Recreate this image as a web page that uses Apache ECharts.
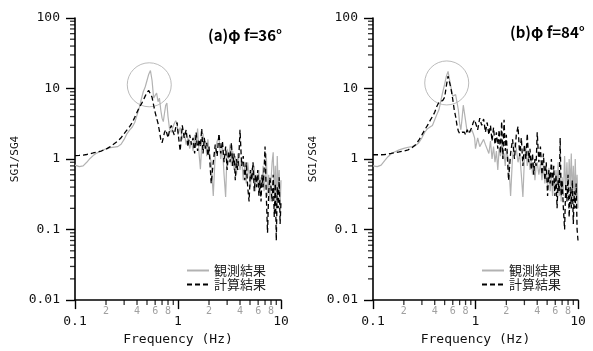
<!DOCTYPE html>
<html><head><meta charset="utf-8">
<script src="https://cdn.jsdelivr.net/npm/echarts@6/dist/echarts.min.js"></script>
<style>html,body{margin:0;padding:0;background:#fff}#c{width:593px;height:351px}</style>
</head><body><div id="c"></div>
<script>
// Frequency grid (Hz)
const freq = [0.10,0.11,0.12,0.13,0.14,0.15,0.16,0.18,0.20,0.22,0.24,0.26,0.28,0.30,0.32,0.34,0.36,0.38,0.40,0.42,0.44,0.46,0.48,0.50,0.52,0.54,0.56,0.58,0.60,0.62,0.64,0.66,0.68,0.70,0.72,0.74,0.76,0.78,0.80,0.83,0.86,0.89,0.92,0.95,0.98,
1.00,1.05,1.10,1.15,1.20,1.25,1.30,1.35,1.40,1.45,1.50,1.55,1.60,1.65,1.70,1.75,1.80,1.85,1.90,1.95,
2.0,2.1,2.2,2.3,2.4,2.5,2.6,2.7,2.8,2.9,3.0,3.1,3.2,3.3,3.4,3.5,3.6,3.7,3.8,3.9,
4.0,4.15,4.3,4.45,4.6,4.75,4.9,5.05,5.2,5.35,5.5,5.65,5.8,5.95,6.1,6.25,6.4,6.55,6.7,6.85,
7.0,7.2,7.4,7.6,7.8,8.0,8.2,8.4,8.6,8.8,9.0,9.2,9.4,9.6,9.8,10.0];

// (a) phi f = 36 deg
const obsA = [0.82,0.78,0.80,0.90,1.02,1.12,1.20,1.30,1.40,1.45,1.48,1.50,1.62,1.90,2.3,2.6,2.85,3.3,4.2,5.3,7.0,9.0,10.5,13,16,18,13,7.3,8.0,8.6,6.5,7.3,5.0,3.8,3.4,4.5,5.8,6.2,4.0,2.6,2.4,2.8,3.2,3.5,3.2,
2.2,2.8,1.9,2.4,1.6,2.0,1.4,1.8,1.3,2.2,1.5,2.7,1.2,0.72,1.6,2.3,1.4,1.8,1.1,1.9,
1.3,0.9,0.3,1.2,1.8,2.0,1.0,1.5,0.6,0.29,1.4,1.0,1.6,0.8,1.3,0.7,1.1,0.6,1.2,0.9,
0.7,1.0,0.5,0.8,0.45,0.9,0.6,0.4,0.75,0.5,0.8,0.35,0.6,0.45,0.7,0.3,0.55,0.4,0.8,0.35,
0.5,1.2,0.3,0.6,0.25,0.5,0.9,1.25,0.3,0.8,0.2,1.1,0.35,0.7,0.2,0.5];
const calcA = [1.12,1.13,1.14,1.16,1.19,1.22,1.25,1.30,1.38,1.50,1.65,1.80,2.0,2.3,2.6,2.9,3.3,3.9,4.6,5.4,6.0,6.8,7.8,8.8,9.4,9.0,7.5,5.8,4.6,3.8,3.2,2.5,1.9,1.7,2.0,2.4,2.6,2.3,2.0,2.6,3.0,2.5,2.2,2.8,3.3,
2.4,1.3,3.0,2.0,2.6,1.5,2.2,1.6,2.0,1.2,2.4,1.3,1.9,1.5,2.7,1.2,2.0,1.4,1.7,1.1,
1.5,0.45,0.9,1.6,1.1,2.3,1.2,1.8,0.9,1.5,0.7,1.3,0.9,1.7,0.8,1.2,0.5,1.0,0.7,1.1,
2.6,0.8,1.1,0.5,0.9,0.4,0.25,0.7,0.5,0.9,0.35,0.6,0.4,0.7,0.3,0.5,0.25,0.6,0.4,0.7,
1.5,0.3,0.09,0.35,0.55,0.4,0.25,0.6,0.15,0.45,0.07,0.4,0.2,0.55,0.12,0.25];

// (b) phi f = 84 deg
const obsB = [0.80,0.78,0.82,0.95,1.08,1.18,1.25,1.35,1.42,1.47,1.50,1.55,1.70,2.0,2.4,2.7,2.85,3.0,3.6,4.3,5.0,6.8,9.0,11.5,15,17.5,13,10,7.8,7.6,8.2,8.5,5.0,3.2,2.6,3.8,5.8,6.0,3.5,2.4,2.3,2.4,2.6,2.3,2.0,
1.4,2.0,1.5,1.45,1.9,1.6,1.7,1.2,1.8,1.0,1.5,0.9,1.3,0.7,1.4,1.1,1.6,1.0,1.2,0.8,
1.3,1.0,0.3,1.1,1.7,1.4,0.9,1.2,0.6,0.29,1.0,1.4,0.8,1.2,0.7,1.0,0.6,0.9,0.5,0.8,
0.9,0.6,0.85,0.5,0.8,0.45,0.7,0.4,0.75,0.35,0.6,0.3,0.55,0.4,0.7,0.35,0.9,0.3,0.6,0.25,
0.55,0.3,1.1,0.35,0.9,0.3,1.0,0.4,1.2,0.3,0.8,0.25,1.0,0.3,0.6,0.2];
const calcB = [1.15,1.15,1.15,1.16,1.18,1.20,1.22,1.26,1.30,1.35,1.45,1.60,1.85,2.2,2.6,3.0,3.5,4.0,4.6,5.6,6.4,6.6,6.8,7.5,11,15,12,9.5,7.0,5.0,4.0,3.0,2.5,2.3,2.2,2.4,2.3,2.4,2.2,2.6,2.3,2.4,2.8,3.3,3.6,
3.6,2.6,3.8,3.0,3.7,2.4,3.3,2.2,3.0,1.8,2.8,1.6,2.4,1.4,2.6,1.2,3.4,1.0,3.6,1.3,
2.2,0.5,1.2,1.9,1.0,2.2,2.9,1.1,2.0,0.8,1.6,1.0,2.3,0.9,1.4,0.7,1.2,0.6,1.0,0.8,
2.4,0.9,1.5,0.6,1.2,0.5,0.9,0.3,0.7,0.45,1.0,0.4,0.8,0.3,0.6,0.2,0.5,0.35,2.0,0.3,
0.5,0.2,0.1,0.45,0.25,0.6,0.15,0.4,0.2,0.5,0.12,0.35,0.2,0.45,0.1,0.07];

// Highlight circles [freq, value]
const circleA = [0.526, 11.3];
const circleB = [0.524, 12.0];

const titles = ['(a)\u03C6 f=36\u00B0', '(b)\u03C6 f=84\u00B0'];
const seriesNames = ['観測結果', '計算結果'];
const yName = 'SG1/SG4';
const xName = 'Frequency (Hz)';

// axis minor ticks / labels
const xMinorTicks = [0.2,0.3,0.4,0.5,0.6,0.7,0.8,0.9,2,3,4,5,6,7,8,9];
const xMinorLabels = [0.2,0.4,0.6,0.8,2,4,6,8];
const yMinorTicks = [0.02,0.03,0.04,0.05,0.06,0.07,0.08,0.09,0.2,0.3,0.4,0.5,0.6,0.7,0.8,0.9,2,3,4,5,6,7,8,9,20,30,40,50,60,70,80,90];

const MONO = 'DejaVu Sans Mono';
const CJK = 'Noto Sans CJK JP';

function pairs(xs, ys) { return xs.map((x, i) => [x, ys[i]]); }

const grids = [
  {left: 75, top: 18, width: 206, height: 284},
  {left: 373, top: 18, width: 205, height: 284}
];

function xAxisDef(i) {
  return {
    type: 'log', logBase: 10, min: 0.1, max: 10, gridIndex: i,
    axisLine: {show: true, onZero: false, lineStyle: {color: '#000', width: 1.6}},
    axisTick: {show: true, inside: false, length: 9, lineStyle: {color: '#000', width: 1.4}},
    axisLabel: {show: true, margin: 15, color: '#111', fontFamily: MONO, fontSize: 13,
      formatter: v => String(v)},
    splitLine: {show: false}, minorTick: {show: false},
    name: xName, nameLocation: 'middle', nameGap: 32,
    nameTextStyle: {fontFamily: MONO, fontSize: 13, color: '#111'}
  };
}
function yAxisDef(i) {
  return {
    type: 'log', logBase: 10, min: 0.01, max: 100, gridIndex: i,
    axisLine: {show: true, onZero: false, lineStyle: {color: '#000', width: 1.6}},
    axisTick: {show: true, inside: false, length: 9, lineStyle: {color: '#000', width: 1.4}},
    axisLabel: {show: true, margin: 15, color: '#111', fontFamily: MONO, fontSize: 13,
      formatter: v => String(v)},
    splitLine: {show: false}, minorTick: {show: false},
    name: yName, nameLocation: 'middle', nameGap: 54, nameRotate: 90,
    nameTextStyle: {fontFamily: MONO, fontSize: 11, color: '#111'}
  };
}

const series = [];
const data = [[obsA, calcA, circleA], [obsB, calcB, circleB]];
data.forEach((d, i) => {
  series.push({
    name: seriesNames[0], type: 'line', xAxisIndex: i, yAxisIndex: i,
    data: pairs(freq, d[0]), symbol: 'none', smooth: false,
    lineStyle: {color: '#b2b2b2', width: 1.2}, itemStyle: {color: '#b2b2b2'}, silent: true
  });
  series.push({
    name: seriesNames[1], type: 'line', xAxisIndex: i, yAxisIndex: i,
    data: pairs(freq, d[1]), symbol: 'none', smooth: false,
    lineStyle: {color: '#000', width: 1.3, type: [5, 3]}, itemStyle: {color: '#000'}, silent: true
  });
  series.push({
    type: 'scatter', xAxisIndex: i, yAxisIndex: i, data: [d[2]], symbol: 'circle',
    symbolSize: 44, silent: true, z: 1,
    itemStyle: {color: 'rgba(0,0,0,0)', borderColor: '#aaaaaa', borderWidth: 1}
  });
  // minor x ticks
  series.push({
    type: 'scatter', xAxisIndex: i, yAxisIndex: i, clip: false, silent: true,
    data: xMinorTicks.map(v => [v, 0.01]), symbol: 'rect', symbolSize: [1.3, 5], symbolOffset: [0, 2.5],
    itemStyle: {color: '#000'}
  });
  // minor y ticks
  series.push({
    type: 'scatter', xAxisIndex: i, yAxisIndex: i, clip: false, silent: true,
    data: yMinorTicks.map(v => [0.1, v]), symbol: 'rect', symbolSize: [5, 1.3], symbolOffset: [-2.5, 0],
    itemStyle: {color: '#000'}
  });
  // minor x labels
  series.push({
    type: 'scatter', xAxisIndex: i, yAxisIndex: i, clip: false, silent: true,
    data: xMinorLabels.map(v => [v, 0.01]), symbol: 'circle', symbolSize: 1,
    itemStyle: {color: 'rgba(0,0,0,0)'},
    label: {show: true, position: 'bottom', distance: 6, color: '#888', fontFamily: MONO, fontSize: 10,
      formatter: p => String(p.value[0] < 1 ? Math.round(p.value[0] * 10) : p.value[0])}
  });
});

function legendDef(left) {
  return {left: left, top: 259, orient: 'vertical', itemWidth: 22, itemHeight: 10, itemGap: 1, selectedMode: false,
    data: seriesNames, itemStyle: {opacity: 0},
    textStyle: {fontFamily: CJK, fontSize: 13, color: '#222'}};
}

const option = {
  animation: false,
  backgroundColor: '#fff',
  grid: grids,
  xAxis: [xAxisDef(0), xAxisDef(1)],
  yAxis: [yAxisDef(0), yAxisDef(1)],
  title: [
    {text: titles[0], left: 203, top: 23, textStyle: {fontFamily: CJK, fontSize: 15, fontWeight: 'bold', color: '#000'}},
    {text: titles[1], left: 505, top: 20, textStyle: {fontFamily: CJK, fontSize: 15, fontWeight: 'bold', color: '#000'}}
  ],
  legend: [legendDef(181), legendDef(476)],
  series: series
};

const chart = echarts.init(document.getElementById('c'), null, {renderer: 'canvas'});
chart.setOption(option);
</script>
</body></html>
